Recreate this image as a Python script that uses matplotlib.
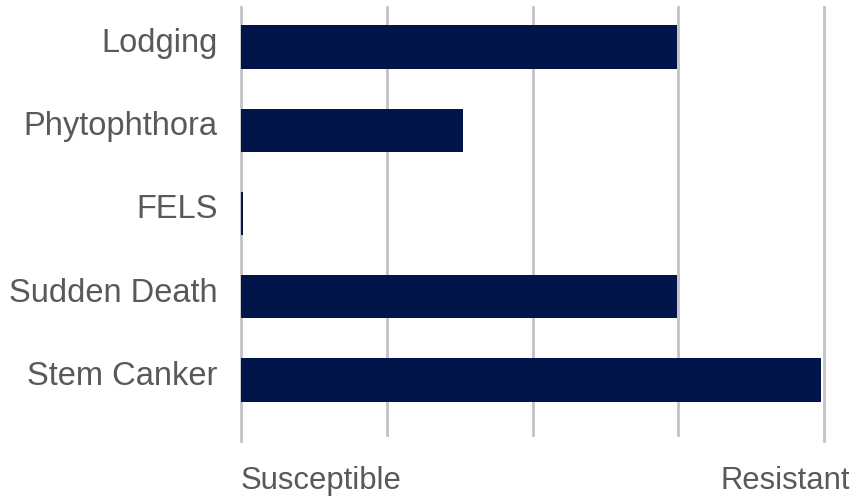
import matplotlib.pyplot as plt
import matplotlib.transforms as mtransforms

# data (top-down order, y axis inverted)
categories = ["Lodging", "Phytophthora", "FELS", "Sudden Death", "Stem Canker"]
scores = [2.99, 1.52, 0.012, 2.99, 3.98]
grid_pos = [0, 1, 2, 3, 4]

bar_color = "#02154a"
grid_color = "#c3c3c7"
text_color = "#595959"

plt.rcParams["font.family"] = ["Liberation Sans", "DejaVu Sans"]

fig = plt.figure(figsize=(8.66, 4.96), dpi=100)
ax = fig.add_axes([0.2783, 0.123, 0.6732, 0.863])

ypos = list(range(len(categories)))
ax.barh(ypos, scores, height=0.52, color=bar_color, zorder=3)

ax.set_xlim(0, 4)
ax.set_ylim(4.66, -0.48)

# vertical gridlines (outer ones a little longer, like tick marks)
for g in grid_pos:
    ymin = -0.014 if g in (0, 4) else 0.0
    ax.axvline(g, ymin=ymin, ymax=1, color=grid_color, lw=2, zorder=1, clip_on=False)

ax.set_yticks(ypos)
ax.set_yticklabels(categories, fontsize=23.5, color=text_color)
ax.tick_params(axis="y", length=0, pad=17)
# labels sit a bit above the bar centres
shift = mtransforms.ScaledTranslation(0, 7 / 100, fig.dpi_scale_trans)
for lbl in ax.get_yticklabels():
    lbl.set_transform(lbl.get_transform() + shift)
ax.set_xticks([])
for s in ax.spines.values():
    s.set_visible(False)

trans = ax.get_xaxis_transform()
ax.text(0, -0.107, "Susceptible", transform=trans, ha="left", va="center",
        fontsize=22.3, color=text_color)
ax.text(4.18, -0.107, "Resistant", transform=trans, ha="right", va="center",
        fontsize=22.3, color=text_color)

fig.savefig("out.png", dpi=100)
